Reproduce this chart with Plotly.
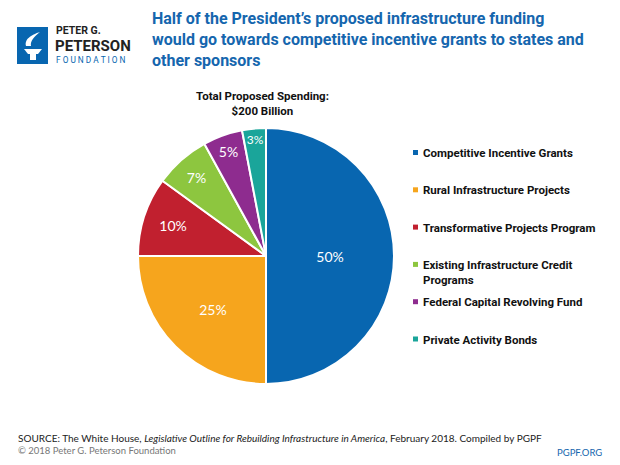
import plotly.graph_objects as go

categories = [
    "Competitive Incentive Grants",
    "Rural Infrastructure Projects",
    "Transformative Projects Program",
    "Existing Infrastructure Credit<br>Programs",
    "Federal Capital Revolving Fund",
    "Private Activity Bonds",
]
shares = [50, 25, 10, 7, 5, 3]
colors = ["#0866B0", "#F6A51D", "#C1202F", "#8DC63F", "#8E2C8F", "#1AA59A"]

W, H = 620, 465
BLUE = "#1566AE"
COND = "Roboto, Lato, sans-serif"
BODY = "Lato, Open Sans, sans-serif"


def px(x):
    return x / W


def py(y):
    return 1 - y / H


fig = go.Figure()
fig.add_trace(go.Pie(
    labels=categories,
    values=shares,
    marker=dict(colors=colors, line=dict(color="white", width=2)),
    sort=False,
    direction="clockwise",
    rotation=0,
    texttemplate="%{value}%",
    textposition="inside",
    insidetextorientation="horizontal",
    textfont=dict(color="white", size=14, family=BODY),
    hoverinfo="label+percent",
    showlegend=False,
    domain=dict(x=[px(138), px(394)], y=[py(384), py(128)]),
))

ann = []
shapes = []

# legend
leg_x = 421
leg_y0 = 152
leg_step = 37.3
for i, (lab, col) in enumerate(zip(categories, colors)):
    y = leg_y0 + i * leg_step
    shapes.append(dict(type="rect", xref="paper", yref="paper",
                       x0=px(413), x1=px(418), y0=py(y + 3), y1=py(y - 2),
                       fillcolor=col, line=dict(width=0)))
    ann.append(dict(text=f"<b>{lab}</b>", x=px(leg_x), y=py(y - 8),
                    xref="paper", yref="paper", xanchor="left", yanchor="top",
                    align="left", showarrow=False,
                    font=dict(size=11.5, color="#111", family=COND)))

# title
ann.append(dict(text="<b>Half of the President’s proposed infrastructure funding<br>"
                     "would go towards competitive incentive grants to states and<br>"
                     "other sponsors</b>",
                x=px(150), y=py(7), xref="paper", yref="paper",
                xanchor="left", yanchor="top", align="left", showarrow=False,
                font=dict(size=16, color=BLUE, family=COND)))

# total label
ann.append(dict(text="<b>Total Proposed Spending:<br>$200 Billion</b>",
                x=px(262), y=py(87), xref="paper", yref="paper",
                xanchor="center", yanchor="top", align="center", showarrow=False,
                font=dict(size=11.5, color="#111", family=COND)))

# logo
shapes.append(dict(type="rect", xref="paper", yref="paper",
                   x0=px(17), x1=px(48), y0=py(64), y1=py(27),
                   fillcolor="#0866B0", line=dict(width=0)))
shapes.append(dict(type="path", xref="paper", yref="paper",
                   path=f"M {px(24)},{py(49)} L {px(42)},{py(49)} L {px(38)},{py(54)} L {px(28)},{py(54)} Z",
                   fillcolor="white", line=dict(width=0)))
shapes.append(dict(type="rect", xref="paper", yref="paper",
                   x0=px(30), x1=px(36), y0=py(60), y1=py(54),
                   fillcolor="white", line=dict(width=0)))
shapes.append(dict(type="path", xref="paper", yref="paper",
                   path=f"M {px(26)},{py(46)} C {px(24)},{py(38)} {px(34)},{py(34)} {px(40)},{py(32)} "
                        f"C {px(34)},{py(37)} {px(30)},{py(41)} {px(31)},{py(46)} Z",
                   fillcolor="white", line=dict(width=0)))
ann.append(dict(text="<b>PETER G.</b>", x=px(54), y=py(30.5), xref="paper", yref="paper",
                xanchor="left", yanchor="middle", showarrow=False,
                font=dict(size=10.5, color="#222", family=COND)))
ann.append(dict(text="<b>PETERSON</b>", x=px(53), y=py(46.5), xref="paper", yref="paper",
                xanchor="left", yanchor="middle", showarrow=False,
                font=dict(size=15, color="#222", family=COND)))
ann.append(dict(text="F O U N D A T I O N", x=px(54), y=py(60), xref="paper", yref="paper",
                xanchor="left", yanchor="middle", showarrow=False,
                font=dict(size=8.3, color="#0866B0", family=COND)))

# footer
ann.append(dict(text="SOURCE: The White House, <i>Legislative Outline for Rebuilding Infrastructure in America</i>, February 2018. Compiled by PGPF",
                x=px(16), y=py(430), xref="paper", yref="paper",
                xanchor="left", yanchor="top", showarrow=False,
                font=dict(size=10, color="#222", family=BODY)))
ann.append(dict(text="© 2018 Peter G. Peterson Foundation",
                x=px(16), y=py(443), xref="paper", yref="paper",
                xanchor="left", yanchor="top", showarrow=False,
                font=dict(size=9.5, color="#777", family=BODY)))
ann.append(dict(text="PGPF.ORG",
                x=px(604), y=py(445), xref="paper", yref="paper",
                xanchor="right", yanchor="top", showarrow=False,
                font=dict(size=9.5, color=BLUE, family=BODY)))

fig.update_layout(
    width=W, height=H,
    margin=dict(l=0, r=0, t=0, b=0),
    paper_bgcolor="white",
    plot_bgcolor="white",
    annotations=ann,
    shapes=shapes,
)

fig.write_html("out.html", config={"displayModeBar": False},
               post_script="document.body.style.margin='0';")
